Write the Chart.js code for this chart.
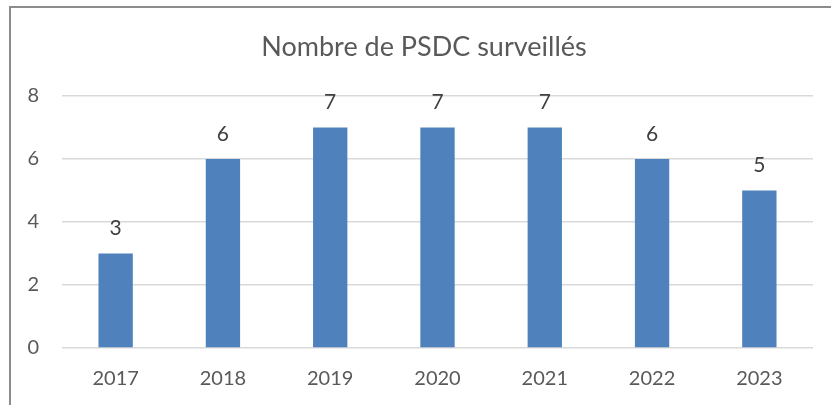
<!DOCTYPE html>
<html>
<head>
<meta charset="utf-8">
<script src="https://cdn.jsdelivr.net/npm/chart.js@4"></script>
<style>
html,body{margin:0;padding:0;background:#fff;}
#wrap{position:relative;width:831px;height:405px;overflow:hidden;}
#frame{position:absolute;left:9px;top:6px;width:900px;height:500px;border-left:2px solid #8c8c8c;border-top:2px solid #8c8c8c;}
canvas{position:absolute;left:0;top:0;}
</style>
</head>
<body>
<div id="wrap">
<div id="frame"></div>
<canvas id="c" width="831" height="405"></canvas>
</div>
<script>
const chartTitle = "Nombre de PSDC surveillés";
const categories = ["2017","2018","2019","2020","2021","2022","2023"];
const values = [3,6,7,7,7,6,5];
const yTicks = [0,2,4,6,8];

const FONT = "Lato, 'Open Sans', sans-serif";

const labelPlugin = {
  id: 'barLabels',
  afterDatasetsDraw(chart) {
    const ctx = chart.ctx;
    const meta = chart.getDatasetMeta(0);
    ctx.save();
    ctx.font = "21px " + FONT;
    ctx.fillStyle = "#404040";
    ctx.textAlign = "center";
    ctx.textBaseline = "middle";
    meta.data.forEach((bar, i) => {
      ctx.fillText(String(values[i]), bar.x, bar.y - 25);
    });
    ctx.restore();
  }
};

const titlePlugin = {
  id: 'customTitle',
  afterDraw(chart) {
    const ctx = chart.ctx;
    ctx.save();
    ctx.font = "27px " + FONT;
    ctx.fillStyle = "#595959";
    ctx.textAlign = "center";
    ctx.textBaseline = "middle";
    ctx.fillText(chartTitle, 424, 47);
    ctx.restore();
  }
};

new Chart(document.getElementById('c'), {
  type: 'bar',
  data: {
    labels: categories,
    datasets: [{
      data: values,
      backgroundColor: '#4F81BD',
      borderWidth: 0,
      categoryPercentage: 1,
      barPercentage: 0.32
    }]
  },
  options: {
    responsive: false,
    animation: false,
    layout: { padding: { left: 0, right: 18, top: 96, bottom: 0 } },
    plugins: {
      legend: { display: false },
      tooltip: { enabled: false },
      title: { display: false }
    },
    scales: {
      x: {
        grid: { display: false, drawTicks: false },
        border: { display: false },
        ticks: { color: '#595959', font: { family: FONT, size: 20 }, padding: 19 },
        afterFit(scale) { scale.height = 57; }
      },
      y: {
        min: 0, max: 8,
        afterBuildTicks(scale) { scale.ticks = yTicks.map(v => ({ value: v })); },
        grid: { color: '#d9d9d9', lineWidth: 1.5, drawTicks: false },
        border: { display: false },
        ticks: { color: '#595959', font: { family: FONT, size: 20 }, padding: 23 },
        afterFit(scale) { scale.width = 62; }
      }
    }
  },
  plugins: [labelPlugin, titlePlugin]
});
</script>
</body>
</html>
